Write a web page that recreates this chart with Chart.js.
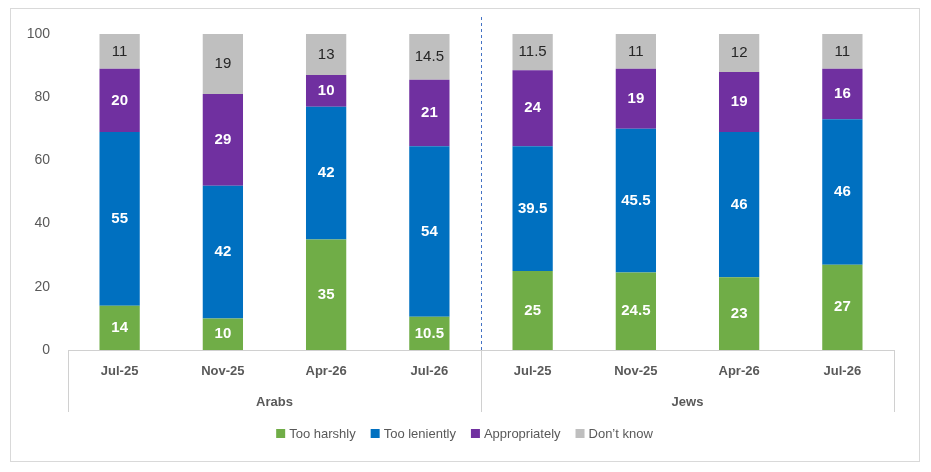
<!DOCTYPE html>
<html>
<head>
<meta charset="utf-8">
<script src="https://cdn.jsdelivr.net/npm/chart.js@4"></script>
<style>
  body { margin: 0; background: #fff; }
  #wrap { position: absolute; left: 10px; top: 8px; width: 908px; height: 452px; border: 1px solid #d9d9d9; }
</style>
</head>
<body>
<div id="wrap"><canvas id="grafico"></canvas></div>
<script>
const categorias = ['Jul-25', 'Nov-25', 'Apr-26', 'Jul-26', 'Jul-25', 'Nov-25', 'Apr-26', 'Jul-26'];
const grupos = ['Arabs', 'Jews'];
const muitoDuro = [14, 10, 35, 10.5, 25, 24.5, 23, 27];
const muitoBrando = [55, 42, 42, 54, 39.5, 45.5, 46, 46];
const adequado = [20, 29, 10, 21, 24, 19, 19, 16];
const naoSabe = [11, 19, 13, 14.5, 11.5, 11, 12, 11];
const yTicks = [0, 20, 40, 60, 80, 100];

const fonte = '"Liberation Sans", Arial, sans-serif';
const cinza = '#595959';

const series = [
    { label: 'Too harshly', data: muitoDuro, color: '#70AD47', txt: '#fff', bold: true },
    { label: 'Too leniently', data: muitoBrando, color: '#0070C0', txt: '#fff', bold: true },
    { label: 'Appropriately', data: adequado, color: '#7030A0', txt: '#fff', bold: true },
    { label: 'Don\u2019t know', data: naoSabe, color: '#BFBFBF', txt: '#262626', bold: false }
];

// rótulos, grupos e legenda desenhados à mão
const extras = {
    id: 'extras',
    afterDatasetsDraw(chart) {
        const ctx = chart.ctx;
        const x = chart.scales.x;
        const area = chart.chartArea;
        ctx.save();
        ctx.textAlign = 'center';
        ctx.textBaseline = 'middle';
        chart.data.datasets.forEach((ds, i) => {
            const s = series[i];
            chart.getDatasetMeta(i).data.forEach((bar, j) => {
                ctx.font = (s.bold ? 'bold ' : '') + '15px ' + fonte;
                ctx.fillStyle = s.txt;
                ctx.fillText(String(ds.data[j]), bar.x, (bar.y + bar.base) / 2);
            });
        });
        // separadores
        const passo = (area.right - area.left) / categorias.length;
        const meio = area.left + passo * 4;
        ctx.strokeStyle = '#d0d0d0';
        ctx.lineWidth = 1;
        [area.left, meio, area.right].forEach(px => {
            ctx.beginPath();
            ctx.moveTo(px + 0.5, area.bottom);
            ctx.lineTo(px + 0.5, area.bottom + 62);
            ctx.stroke();
        });
        ctx.strokeStyle = '#4472C4';
        ctx.setLineDash([3, 3]);
        ctx.beginPath();
        ctx.moveTo(meio + 0.5, 8);
        ctx.lineTo(meio + 0.5, area.bottom);
        ctx.stroke();
        ctx.setLineDash([]);
        ctx.font = 'bold 13px ' + fonte;
        ctx.fillStyle = cinza;
        grupos.forEach((g, k) => {
            ctx.fillText(g, area.left + passo * (2 + 4 * k), area.bottom + 52);
        });
        // legenda
        ctx.font = '13px ' + fonte;
        ctx.textAlign = 'left';
        const larguras = series.map(s => ctx.measureText(s.label).width + 14 + 14);
        const total = larguras.reduce((a, b) => a + b, 0) - 14;
        let lx = (chart.width - total) / 2;
        const ly = area.bottom + 83;
        series.forEach((s, i) => {
            ctx.fillStyle = s.color;
            ctx.fillRect(lx, ly - 4, 9, 9);
            ctx.fillStyle = cinza;
            ctx.fillText(s.label, lx + 13, ly + 1);
            lx += larguras[i];
        });
        ctx.restore();
    }
};

new Chart(document.getElementById('grafico'), {
    type: 'bar',
    data: {
        labels: categorias,
        datasets: series.map(s => ({
            label: s.label,
            data: s.data,
            backgroundColor: s.color,
            barPercentage: 0.39,
            categoryPercentage: 1
        }))
    },
    options: {
        responsive: true,
        maintainAspectRatio: false,
        animation: false,
        layout: { padding: { top: 25, left: 10, right: 25, bottom: 49 } },
        plugins: { legend: { display: false }, tooltip: { enabled: false } },
        scales: {
            x: {
                stacked: true,
                grid: { display: false, drawTicks: false },
                border: { color: '#d0d0d0' },
                ticks: { color: cinza, font: { family: fonte, size: 13, weight: 'bold' }, padding: 14 },
                afterFit: s => { s.height = 62; }
            },
            y: {
                stacked: true,
                min: 0,
                max: 100,
                afterBuildTicks: s => { s.ticks = yTicks.map(v => ({ value: v })); },
                grid: { display: false },
                border: { display: false },
                ticks: { color: cinza, font: { family: fonte, size: 14 }, padding: 10 },
                afterFit: s => { s.width = 47; }
            }
        }
    },
    plugins: [extras]
});
</script>
</body>
</html>
